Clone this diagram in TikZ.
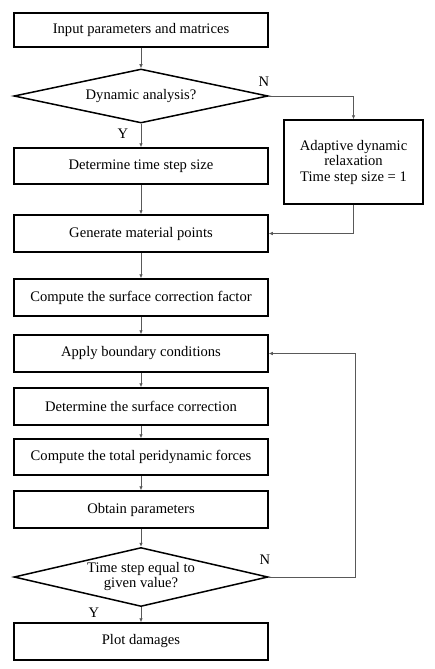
\documentclass[tikz,border=0pt]{standalone}
\usepackage{fontspec}
\setmainfont{Liberation Serif}
\usetikzlibrary{shapes.geometric,arrows.meta}
\tikzset{
  procbox/.style={draw=black, line width=1.5pt, minimum width=254pt, inner sep=0pt, align=center, font=\fontsize{14.6}{15.5}\selectfont},
  decbox/.style={draw=black, line width=1.5pt, shape=diamond, minimum width=254pt, inner sep=0pt, align=center, font=\fontsize{14.6}{15}\selectfont},
  conn/.style={draw=black!65, line width=0.7pt, -{Latex[length=4pt,width=3.5pt]}},
  lbl/.style={font=\fontsize{14.6}{16}\selectfont, inner sep=0pt}
}
\begin{document}
\begin{tikzpicture}[x=1pt,y=-1pt]
\useasboundingbox (0,0) rectangle (435,669);
\node[procbox, minimum height=34pt] (b1) at (141,30) {Input parameters and matrices};
\node[decbox, shape aspect=4.7, minimum height=54pt] (d1) at (141,96) {Dynamic analysis?};
\node[procbox, minimum height=36pt] (b2) at (141,166) {Determine time step size};
\node[procbox, minimum width=139pt, minimum height=84pt] (ad) at (353.5,162) {Adaptive dynamic\\relaxation\\Time step size = 1};
\node[procbox, minimum height=37pt] (b3) at (141,233.5) {Generate material points};
\node[procbox, minimum height=37pt] (b4) at (141,297.5) {Compute the surface correction factor};
\node[procbox, minimum height=37pt] (b5) at (141,353.5) {Apply boundary conditions};
\node[procbox, minimum height=37pt] (b6) at (141,406.5) {Determine the surface correction};
\node[procbox, minimum height=36pt] (b7) at (141,457) {Compute the total peridynamic forces};
\node[procbox, minimum height=37pt] (b8) at (141,509.5) {Obtain parameters};
\node[decbox, shape aspect=4.3, minimum height=59pt] (d2) at (141,577) {Time step equal to\\given value?};
\node[procbox, minimum height=37pt] (b9) at (141,641.5) {Plot damages};

\node[lbl] (n1) at (264,82) {N};
\node[lbl] (y1) at (123,134) {Y};
\node[lbl] (n2) at (265,560) {N};
\node[lbl] (y2) at (94,613) {Y};

\coordinate (fb) at (355,577);

\draw[conn] (b1.south) -- (d1.north);
\draw[conn] (d1.south) -- (b2.north);
\draw[conn] (d1.east) -| (ad.north);
\draw[conn] (b2.south) -- (b3.north);
\draw[conn] (ad.south) |- (b3.east);
\draw[conn] (b3.south) -- (b4.north);
\draw[conn] (b4.south) -- (b5.north);
\draw[conn] (b5.south) -- (b6.north);
\draw[conn] (b6.south) -- (b7.north);
\draw[conn] (b7.south) -- (b8.north);
\draw[conn] (b8.south) -- (d2.north);
\draw[conn] (d2.south) -- (b9.north);
\draw[conn] (d2.east) -- (fb) |- (b5.east);
\end{tikzpicture}
\end{document}
